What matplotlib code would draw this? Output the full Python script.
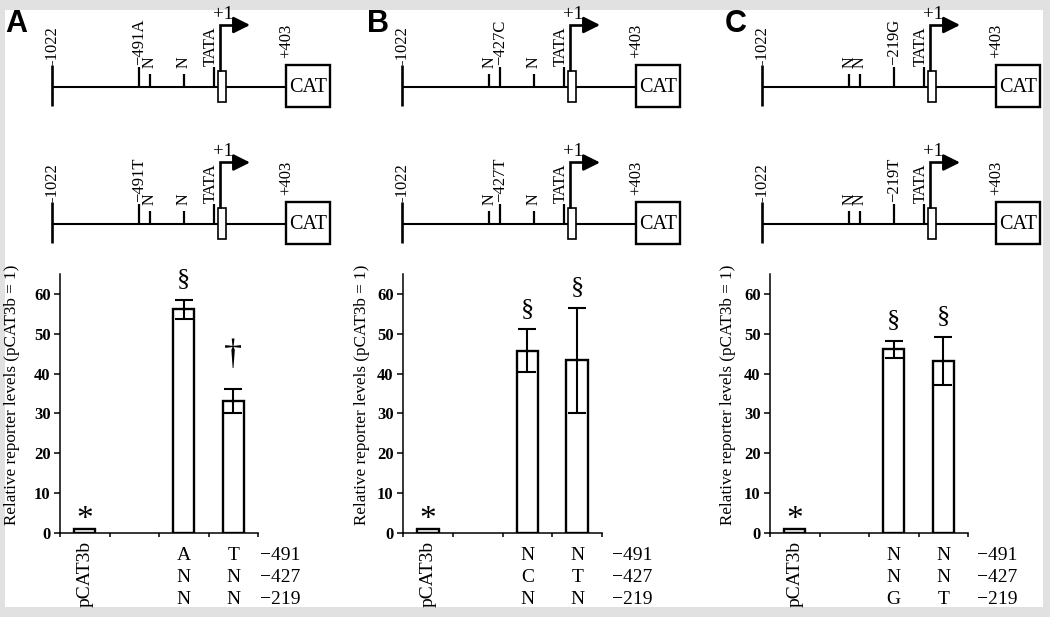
import matplotlib
matplotlib.use("Agg")
import matplotlib.pyplot as plt
from matplotlib.patches import Rectangle
from matplotlib.transforms import blended_transform_factory, offset_copy

W, H, DPI = 1050, 617, 100
SERIF = ["Liberation Serif", "DejaVu Serif"]
SANS = ["Liberation Sans", "DejaVu Sans"]

# ---------------- data ----------------
panel_letters = ["A", "B", "C"]
categories = ["pCAT3b", "", "v1", "v2"]
bar_slots = [0, 2, 3]
values_A = [1.0, 56.2, 33.1]
errors_A = [0.0, 2.4, 3.0]
marks_A = ["*", "§", "†"]
values_B = [1.0, 45.8, 43.3]
errors_B = [0.0, 5.3, 13.2]
marks_B = ["*", "§", "§"]
values_C = [1.0, 46.1, 43.2]
errors_C = [0.0, 2.1, 6.1]
marks_C = ["*", "§", "§"]
site_labels = ["−491", "−427", "−219"]
genotypes_A = [["A", "T"], ["N", "N"], ["N", "N"]]
genotypes_B = [["N", "N"], ["C", "T"], ["N", "N"]]
genotypes_C = [["N", "N"], ["N", "N"], ["G", "T"]]
yticks = [0, 10, 20, 30, 40, 50, 60]
ylabel = "Relative reporter levels (pCAT3b = 1)"

# promoter construct (bp)
promoter_start = -1022
cat_start = 403
tata_pos = -37
tss_pos = 1
snp_sites = [-491, -427, -219]
construct_labels_A = [["−491A", "N", "N"], ["−491T", "N", "N"]]
construct_labels_B = [["N", "−427C", "N"], ["N", "−427T", "N"]]
construct_labels_C = [["N", "N", "−219G"], ["N", "N", "−219T"]]

# ---------------- layout ----------------
panel_x0 = {"A": 52, "B": 402, "C": 762}
bar_axes_px = {"A": (60, 258), "B": (403, 602), "C": (770, 968)}
letter_px = {"A": 5, "B": 367, "C": 725}
ylabel_dx = {"A": -48, "B": -41, "C": -42}
site_dx = {"A": 2, "B": 10, "C": 9}
S = 0.1645  # px per bp
ROWS_Y = [87, 224.5]

fig = plt.figure(figsize=(W / DPI, H / DPI), dpi=DPI, facecolor="#e1e1e1")
fig.patches.append(Rectangle((5 / W, 1 - 607 / H), (1043 - 5) / W, (607 - 10) / H,
                             transform=fig.transFigure, facecolor="white",
                             edgecolor="none", zorder=-10))


def draw_construct(ox, label_rows):
    lpx, rpx = ox - 40, ox + 310
    ax = fig.add_axes([lpx / W, 1 - 250 / H, (rpx - lpx) / W, 250 / H])
    ax.set_xlim(promoter_start - 40 / S, promoter_start + 310 / S)
    ax.set_ylim(250, 0)
    ax.axis("off")
    bp = 1 / S
    for Y, labels in zip(ROWS_Y, label_rows):
        ax.plot([promoter_start, cat_start], [Y, Y], color="k", lw=1.5,
                solid_capstyle="butt")
        ax.plot([promoter_start] * 2, [Y - 22, Y + 19], color="k", lw=1.9,
                solid_capstyle="butt")
        ax.text(promoter_start, Y - 22, "-1022", rotation=90, ha="center",
                va="bottom", fontsize=12, family=SERIF)
        for pos, lab in zip(snp_sites, labels):
            if lab == "N":
                ax.plot([pos, pos], [Y, Y - 13], color="k", lw=1.6,
                        solid_capstyle="butt")
                ax.text(pos, Y - 19, lab, rotation=90, ha="center", va="bottom",
                        fontsize=11.5, family=SERIF)
            else:
                ax.plot([pos, pos], [Y, Y - 20], color="k", lw=1.6,
                        solid_capstyle="butt")
                ax.text(pos, Y - 22, lab, rotation=90, ha="center", va="bottom",
                        fontsize=12, family=SERIF)
        ax.plot([tata_pos, tata_pos], [Y, Y - 20], color="k", lw=1.6,
                solid_capstyle="butt")
        ax.text(tata_pos - 3 * bp, Y - 21, "TATA", rotation=90, ha="center",
                va="bottom", fontsize=12, family=SERIF)
        # exon box
        ax.add_patch(Rectangle((tss_pos - 12, Y - 16), 49, 31, facecolor="white",
                               edgecolor="k", lw=1.2, zorder=3))
        # bent arrow
        ax.plot([tss_pos, tss_pos, 160], [Y - 16, Y - 62, Y - 62], color="k",
                lw=1.9, solid_joinstyle="miter", solid_capstyle="butt", zorder=4)
        ax.annotate("", xy=(182, Y - 62), xytext=(140, Y - 62),
                    arrowprops=dict(arrowstyle="-|>,head_length=1.1,head_width=0.55",
                                    mutation_scale=9, color="k", lw=1.9,
                                    shrinkA=0, shrinkB=0), zorder=4)
        ax.text(tss_pos + 16, Y - 64, "+1", ha="center", va="bottom",
                fontsize=13.5, family=SERIF)
        # CAT box
        ax.add_patch(Rectangle((cat_start, Y - 22), 44 * bp, 42, facecolor="white",
                               edgecolor="k", lw=1.7, zorder=3))
        ax.text(cat_start + 22 * bp, Y, "CAT", ha="center", va="center",
                fontsize=14.5, family=SERIF, zorder=5)
        ax.text(cat_start, Y - 29, "+403", rotation=90, ha="center", va="bottom",
                fontsize=12, family=SERIF)
    return ax


def draw_bars(key, values, errors, marks, genos):
    l, r = bar_axes_px[key]
    ax = fig.add_axes([l / W, 1 - 533 / H, (r - l) / W, (533 - 274) / H])
    ax.set_facecolor("none")
    ax.set_xlim(-0.5, len(categories) - 0.5)
    ax.set_ylim(0, 65)
    ax.bar(bar_slots, values, width=0.43, color="white", edgecolor="black",
           linewidth=1.7, zorder=2)
    ex = [x for x, e in zip(bar_slots, errors) if e > 0]
    ev = [v for v, e in zip(values, errors) if e > 0]
    ee = [e for e in errors if e > 0]
    ax.errorbar(ex, ev, yerr=ee, fmt="none", ecolor="k", elinewidth=1.5,
                capsize=6.5, capthick=1.5, zorder=3)
    off = {"*": 7, "§": 15, "†": 24}
    fs = {"*": 24, "§": 19, "†": 26}
    for x, v, e, m in zip(bar_slots, values, errors, marks):
        ax.annotate(m, xy=(x, v + e), xytext=(0, off[m]), textcoords="offset points",
                    ha="center", va="center", fontsize=fs[m], family=SERIF)
    for s in ["top", "right"]:
        ax.spines[s].set_visible(False)
    for s in ["left", "bottom"]:
        ax.spines[s].set_linewidth(1.1)
    ax.set_yticks(yticks)
    ax.set_yticklabels([str(t) for t in yticks], fontsize=12, fontweight="bold",
                       family=SERIF)
    ax.tick_params(axis="y", length=4.3, width=1.1, pad=2.5, direction="out")
    ax.set_xticks([i - 0.5 for i in range(len(categories) + 1)])
    ax.set_xticklabels([])
    ax.tick_params(axis="x", length=3, width=1.1, direction="out")
    # y label
    ax.text(0, 0.533, ylabel, rotation=90, ha="center", va="center", fontsize=12.3,
            family=SERIF,
            transform=offset_copy(ax.transAxes, fig=fig, x=ylabel_dx[key], y=0,
                                  units="dots"))
    # category labels
    tr = blended_transform_factory(ax.transData, ax.transAxes)
    ax.text(0, -8 / 259, categories[0], rotation=90, ha="center", va="top",
            fontsize=14, family=SERIF, transform=tr)
    row_px = [555.5, 577.5, 599.5]
    for rp, row, site in zip(row_px, genos, site_labels):
        yy = (533 - rp) / 259
        for x, g in zip(bar_slots[1:], row):
            ax.text(x, yy, g, ha="center", va="center", fontsize=14, family=SERIF,
                    transform=tr)
        ax.text(len(categories) - 0.5, yy, site, ha="left", va="center", fontsize=14,
                family=SERIF,
                transform=offset_copy(tr, fig=fig, x=site_dx[key], y=0, units="dots"))
    return ax


panels = {
    "A": (construct_labels_A, values_A, errors_A, marks_A, genotypes_A),
    "B": (construct_labels_B, values_B, errors_B, marks_B, genotypes_B),
    "C": (construct_labels_C, values_C, errors_C, marks_C, genotypes_C),
}
for key in panel_letters:
    labs, vals, errs, mks, gens = panels[key]
    draw_construct(panel_x0[key], labs)
    draw_bars(key, vals, errs, mks, gens)
    fig.text(letter_px[key] / W, 1 - 32 / H, key, ha="left", va="baseline",
             fontsize=22, fontweight="bold", family=SANS)

fig.savefig("out.png", dpi=DPI, facecolor=fig.get_facecolor())
